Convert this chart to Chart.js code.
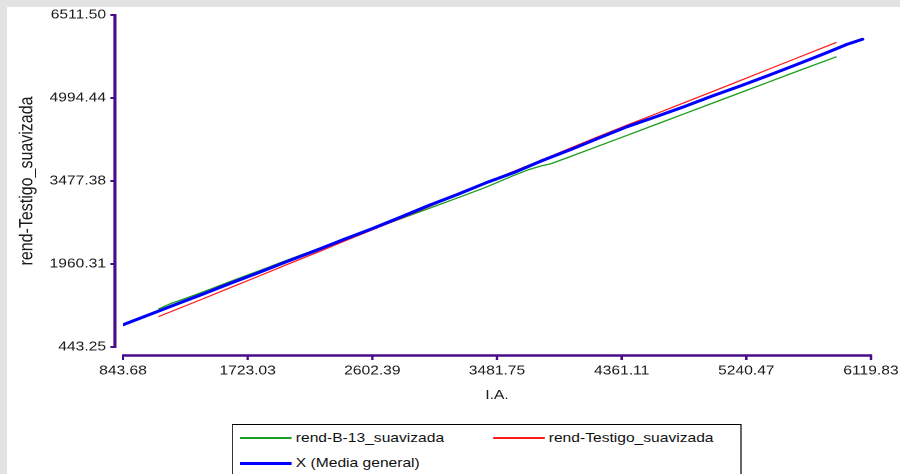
<!DOCTYPE html>
<html>
<head>
<meta charset="utf-8">
<script src="https://cdn.jsdelivr.net/npm/chart.js@4.4.1/dist/chart.umd.min.js"></script>
<style>
  html, body { margin: 0; padding: 0; }
  body { width: 900px; height: 474px; background: #e2e2e2; position: relative; overflow: hidden;
         font-family: "Liberation Sans", Arial, sans-serif; }
  #sheet { position: absolute; left: 7px; top: 7px; right: 0; bottom: 0; background: #fff; }
  /* the figure is laid out 750px wide and widened to the full 900px */
  #stage { position: absolute; left: 0; top: 0; width: 750px; height: 474px;
           transform: scaleX(1.2); transform-origin: 0 0; }
  #plot { position: absolute; left: 0; top: 0; width: 750px; height: 474px; }
  #legend { position: absolute; left: 193.3px; top: 424px; width: 425px; height: 70px;
            border-style: solid; border-color: #000; border-width: 1.5px 1.2px;
            box-sizing: border-box; background: #fff; }
  .item { position: absolute; height: 16px; font-size: 13px; line-height: 16px; color: #111; white-space: nowrap; }
  .swatch { position: absolute; left: 0; width: 43.3px; }
  .label { position: absolute; left: 46.7px; top: 0; }
</style>
</head>
<body>
<div id="sheet"></div>
<div id="stage">
  <div id="plot"><canvas id="chart"></canvas></div>
  <div id="legend"></div>
</div>
<script>
// Axis ticks
const xTicks = [843.68, 1723.03, 2602.39, 3481.75, 4361.11, 5240.47, 6119.83];
const xTickLabels = ['843.68', '1723.03', '2602.39', '3481.75', '4361.11', '5240.47', '6119.83'];
const yTicks = [443.25, 1960.31, 3477.38, 4994.44, 6511.50];
const yTickLabels = ['443.25', '1960.31', '3477.38', '4994.44', '6511.50'];

// rend-B-13_suavizada
const b13X = [1097, 1180, 1300, 1450, 1600, 1800, 2000, 2200, 2400, 2600, 2800, 3000, 3200, 3400, 3596, 3700, 3790, 3860,
              4000, 4200, 4400, 4600, 4800, 5000, 5200, 5400, 5600, 5873];
const b13Y = [1142, 1236, 1346, 1490, 1640, 1832, 2030, 2222, 2415, 2598, 2784, 2975, 3166, 3360, 3575, 3680, 3752, 3790,
              3925, 4118, 4312, 4508, 4703, 4898, 5093, 5288, 5483, 5745];

// rend-Testigo_suavizada
const testX = [1097, 1200, 1400, 1600, 1800, 2000, 2200, 2400, 2600, 2800, 3000, 3200, 3400, 3600, 3800,
               4000, 4200, 4400, 4600, 4800, 5000, 5200, 5400, 5600, 5873];
const testY = [1001, 1108, 1316, 1527, 1736, 1950, 2158, 2372, 2582, 2790, 3005, 3222, 3440, 3655, 3866,
               4080, 4292, 4500, 4702, 4906, 5110, 5316, 5522, 5728, 6008];

// X (Media general)
const meanX = [843.68, 1000, 1200, 1400, 1600, 1800, 2000, 2200, 2400, 2600, 2800, 3000, 3200, 3400, 3600,
               3800, 4000, 4200, 4400, 4600, 4800, 5000, 5200, 5400, 5600, 5800, 5950, 6060];
const meanY = [850, 1006, 1205, 1402, 1606, 1802, 2006, 2202, 2408, 2605, 2815, 3030, 3228, 3440, 3630,
               3850, 4050, 4262, 4470, 4650, 4835, 5030, 5215, 5410, 5610, 5815, 5975, 6068];

const FONT = '"Liberation Sans", Arial, sans-serif';
const AXIS = '#4a0a8a';

const pts = (xs, ys) => xs.map((x, i) => ({ x, y: ys[i] }));

const series = [
  { label: 'rend-B-13_suavizada', data: pts(b13X, b13Y), borderColor: '#1f9e1f', borderWidth: 1.3, order: 3 },
  { label: 'rend-Testigo_suavizada', data: pts(testX, testY), borderColor: '#ff1a1a', borderWidth: 1.2, order: 2 },
  { label: 'X (Media general)', data: pts(meanX, meanY), borderColor: '#0000ff', borderWidth: 3, order: 1 }
];

// Offset axis lines with outward tick marks, placed from the scales
const axisLines = {
  id: 'axisLines',
  afterDraw(chart) {
    const { ctx, chartArea, scales: { x, y } } = chart;
    ctx.save();
    ctx.strokeStyle = AXIS;
    ctx.lineCap = 'butt';

    const ax = chartArea.left - 6.7;
    const yTop = y.getPixelForValue(yTicks[yTicks.length - 1]);
    const yBot = y.getPixelForValue(yTicks[0]);
    ctx.lineWidth = 2.6;
    ctx.beginPath(); ctx.moveTo(ax, yTop - 1); ctx.lineTo(ax, yBot + 1); ctx.stroke();
    ctx.lineWidth = 2;
    y.ticks.forEach(t => {
      const p = y.getPixelForValue(t.value);
      ctx.beginPath(); ctx.moveTo(ax - 3.8, p); ctx.lineTo(ax, p); ctx.stroke();
    });

    const ay = chartArea.bottom + 8.5;
    const xL = x.getPixelForValue(xTicks[0]);
    const xR = x.getPixelForValue(xTicks[xTicks.length - 1]);
    ctx.lineWidth = 2.6;
    ctx.beginPath(); ctx.moveTo(xL - 0.9, ay); ctx.lineTo(xR + 0.9, ay); ctx.stroke();
    ctx.lineWidth = 2;
    x.ticks.forEach(t => {
      const p = x.getPixelForValue(t.value);
      ctx.beginPath(); ctx.moveTo(p, ay); ctx.lineTo(p, ay + 4.5); ctx.stroke();
    });
    ctx.restore();
  }
};

const chart = new Chart(document.getElementById('chart'), {
  type: 'line',
  data: {
    datasets: series.map(s => ({
      ...s, pointRadius: 0, pointHoverRadius: 0, tension: 0, fill: false,
      borderJoinStyle: 'round', borderCapStyle: 'round'
    }))
  },
  options: {
    responsive: true,
    maintainAspectRatio: false,
    animation: false,
    devicePixelRatio: 2,
    layout: { padding: { top: 15, right: 24.2, bottom: 0, left: 0 } },
    plugins: { legend: { display: false }, tooltip: { enabled: false } },
    scales: {
      x: {
        type: 'linear', min: xTicks[0], max: xTicks[xTicks.length - 1],
        grid: { display: false, drawTicks: false }, border: { display: false },
        afterBuildTicks: s => { s.ticks = xTicks.map(v => ({ value: v })); },
        afterFit: s => { s.height = 127; s.paddingLeft = 0; s.paddingRight = 0; },
        ticks: {
          autoSkip: false, maxRotation: 0, padding: 16, color: '#1a1a1a',
          font: { family: FONT, size: 13 },
          callback: (v, i) => xTickLabels[i]
        },
        title: { display: true, text: 'I.A.', color: '#1a1a1a', font: { family: FONT, size: 13 },
                 padding: { top: 0, bottom: 71 } }
      },
      y: {
        type: 'linear', min: yTicks[0], max: yTicks[yTicks.length - 1],
        grid: { display: false, drawTicks: false }, border: { display: false },
        afterBuildTicks: s => { s.ticks = yTicks.map(v => ({ value: v })); },
        afterFit: s => { s.width = 102.5; s.paddingTop = 0; s.paddingBottom = 0; },
        ticks: {
          autoSkip: false, padding: 14.2, color: '#1a1a1a',
          font: { family: FONT, size: 13 },
          callback: (v, i) => yTickLabels[i]
        },
        title: { display: true, text: 'rend-Testigo_suavizada', color: '#1a1a1a',
                 font: { family: FONT, size: 16 }, padding: { top: 12.9, bottom: 0 } }
      }
    }
  },
  plugins: [axisLines]
});

// Legend box: two columns, built from the datasets
const legend = document.getElementById('legend');
const cols = [200, 410.8];
const rows = [438, 463];
series.forEach((s, i) => {
  const item = document.createElement('div');
  item.className = 'item';
  item.style.left = (cols[i % 2] - 193.3 - 1.2) + 'px';
  item.style.top = Math.round(rows[Math.floor(i / 2)] - 424 - 1.5 - 8) + 'px';
  const sw = document.createElement('div');
  sw.className = 'swatch';
  const h = Math.max(2, Math.round(s.borderWidth));
  sw.style.height = h + 'px';
  sw.style.backgroundColor = s.borderColor;
  sw.style.top = Math.round(8 - h / 2) + 'px';
  const tx = document.createElement('span');
  tx.className = 'label';
  tx.textContent = s.label;
  item.appendChild(sw);
  item.appendChild(tx);
  legend.appendChild(item);
});
</script>
</body>
</html>
